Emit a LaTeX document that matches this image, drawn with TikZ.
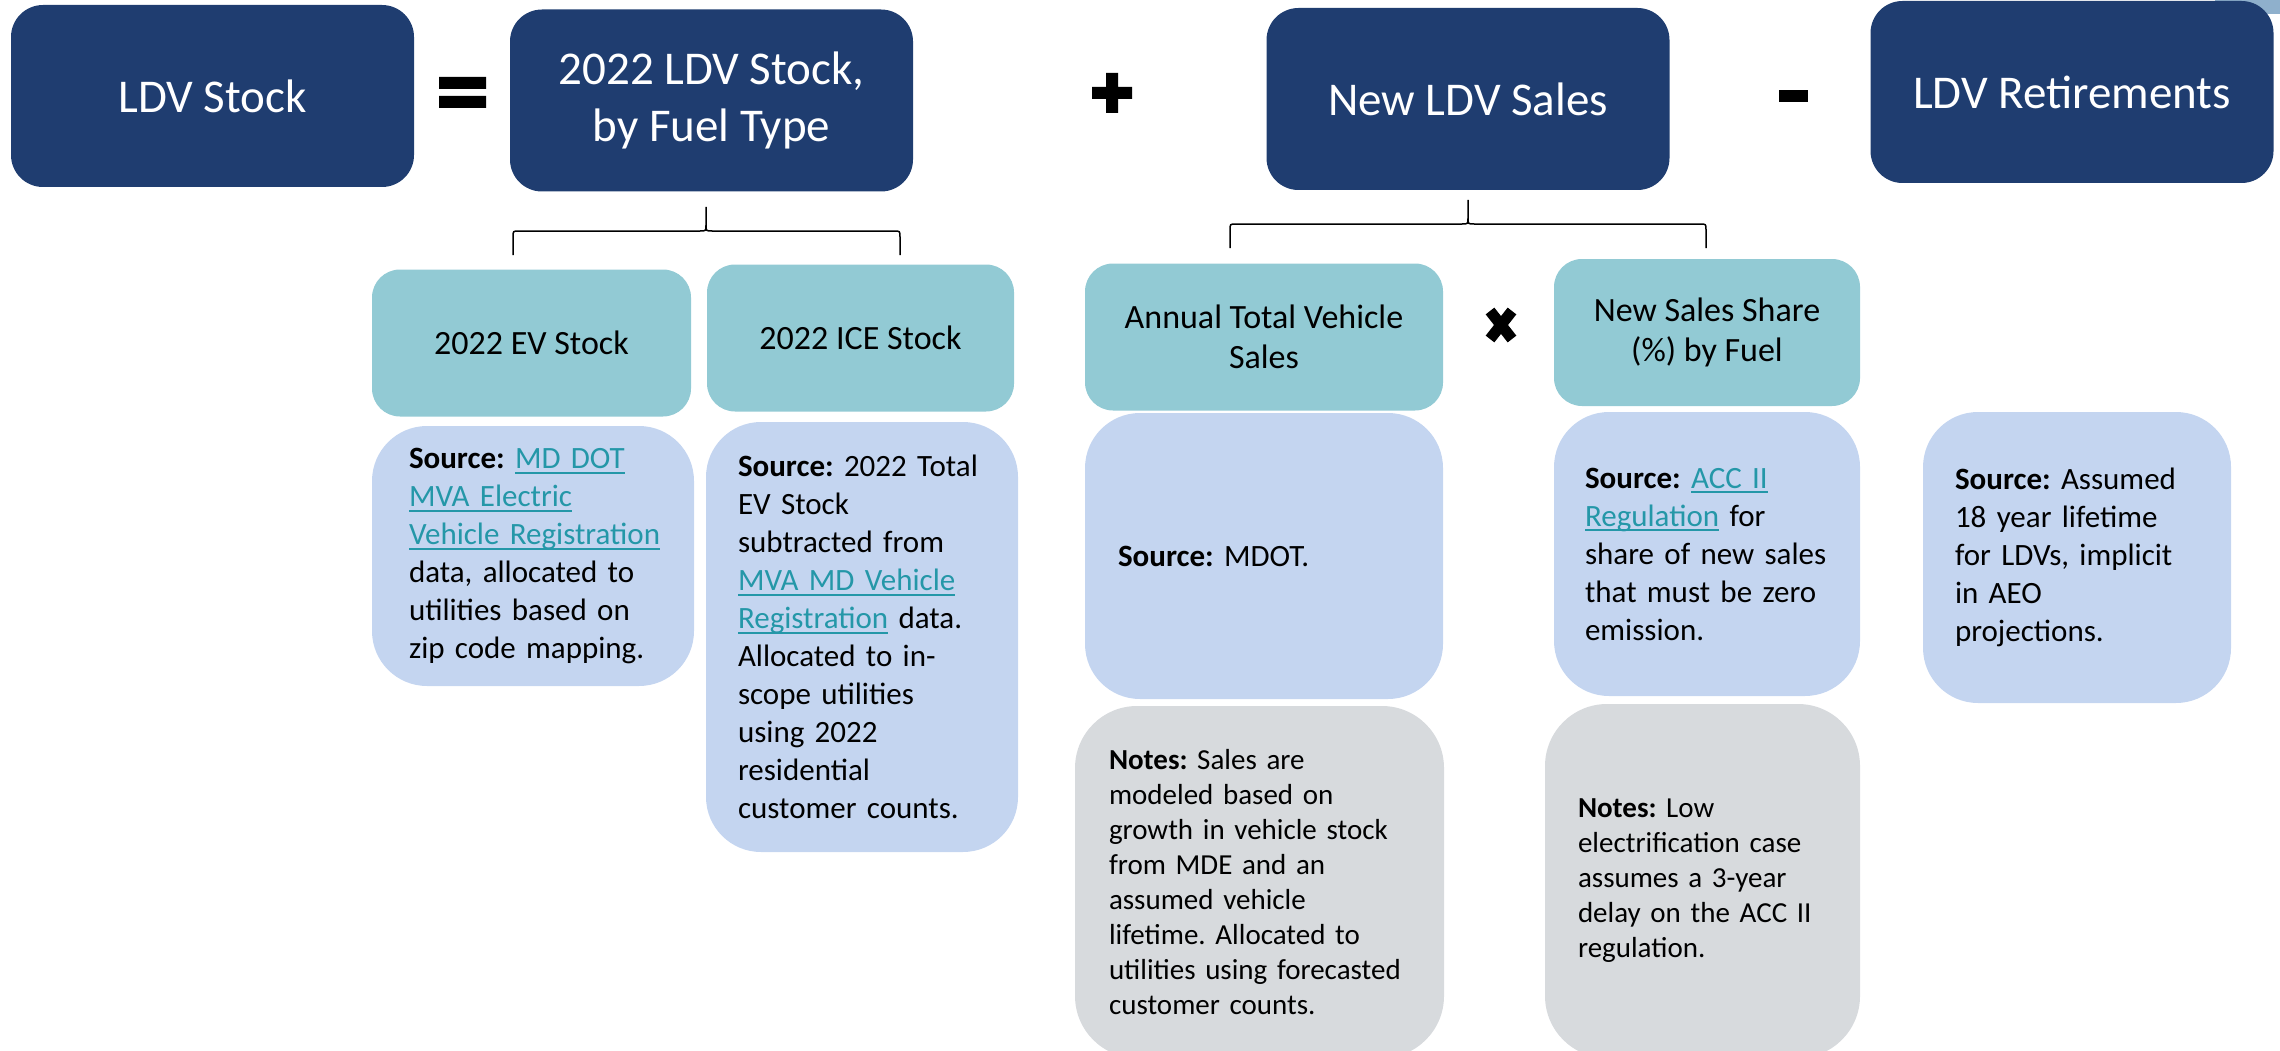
\documentclass[tikz,border=0pt]{standalone}
\usepackage{fontspec}
\setmainfont{Carlito}

\definecolor{ldvnavy}{RGB}{31,61,112}
\definecolor{ldvteal}{RGB}{146,202,212}
\definecolor{srcblue}{RGB}{196,213,240}
\definecolor{notegray}{RGB}{215,218,221}
\definecolor{linkteal}{RGB}{36,151,168}
\definecolor{sliverblue}{RGB}{143,176,204}

\newcommand\lnk[1]{\textcolor{linkteal}{\setbox0\hbox{#1}\rlap{\rule[-5pt]{\wd0}{1.8pt}}\box0}}
\newcommand\nohyph{\hyphenpenalty=10000\relax}
% left x, tip x, right x, line y, arm length
\newcommand\ldvbrace[5]{%
  \draw[bracket] (#1,#4+#5) -- (#1,#4+6) .. controls (#1,#4) .. (#1+6,#4)
    -- (#2-6,#4) .. controls (#2,#4) .. (#2,#4-6) -- (#2,#4-#5) -- (#2,#4-6)
    .. controls (#2,#4) .. (#2+6,#4) -- (#3-6,#4) .. controls (#3,#4) .. (#3,#4+6)
    -- (#3,#4+#5);}

\begin{document}
\frenchspacing
\begin{tikzpicture}[x=1pt, y=-1pt,
            topbox/.style={rectangle, rounded corners=32pt, fill=ldvnavy, text=white, align=center,
              font=\fontsize{47}{57}\selectfont, minimum width=403pt, minimum height=182pt, inner sep=0pt},
            headbox/.style={rectangle, rounded corners=28pt, fill=ldvteal, align=center,
              font=\fontsize{34}{40}\selectfont, minimum height=147pt, inner sep=0pt},
            srcbox/.style={rectangle, rounded corners=55pt, fill=srcblue, align=left,
              font=\fontsize{31}{38}\selectfont\nohyph, inner xsep=32pt, inner ysep=0pt},
            notebox/.style={rectangle, rounded corners=62pt, fill=notegray, align=left,
              font=\fontsize{29}{35}\selectfont\nohyph, inner xsep=34pt, inner ysep=0pt},
            bracket/.style={draw=black, line width=1.5pt},
            opsign/.style={fill=black}]
  \useasboundingbox (0,0) rectangle (2280,1051);
  \clip (0,0) rectangle (2280,1051);
  \fill[sliverblue] (2215,0) rectangle (2280,14);

  % equation row
  \node[topbox] (stock) at (212.5,96) {LDV Stock};
  \node[topbox] (base) at (711.5,100.5) {2022 LDV Stock,\\by Fuel Type};
  \node[topbox] (sales) at (1468,99) {New LDV Sales};
  \node[topbox] (retire) at (2072,92) {LDV Retirements};

  \fill[opsign] (439,77) rectangle (486,89) (439,96) rectangle (486,108);
  \fill[opsign] (1092,87) rectangle (1132,99) (1106,73) rectangle (1118,113);
  \fill[opsign] (1779,90) rectangle (1808,102);
  \draw[line width=11pt] (1490,311) -- (1512,339) (1512,311) -- (1490,339);

  \ldvbrace{513}{706}{900}{231}{24}
  \ldvbrace{1230}{1468}{1706}{224}{24}

  % components
  \node[headbox, minimum width=319pt] (evstock) at (531.5,343) {2022 EV Stock};
  \node[headbox, minimum width=307pt] (icestock) at (860.5,338) {2022 ICE Stock};
  \node[headbox, minimum width=358pt] (annual) at (1264,337) {Annual Total Vehicle\\Sales};
  \node[headbox, minimum width=306pt] (share) at (1707,332.5) {New Sales Share\\(\%) by Fuel};

  % sources
  \node[srcbox, inner xsep=37pt, text width=248pt, minimum height=260pt] (evsrc) at (533,556)
    {\textbf{Source:} \lnk{MD DOT}\\\lnk{MVA Electric}\\\lnk{Vehicle Registration}\\data, allocated to\\utilities based on\\zip code mapping.};
  \node[srcbox, text width=248pt, minimum height=430pt] (icesrc) at (862,637)
    {\textbf{Source:} 2022 Total\\EV Stock\\subtracted from\\\lnk{MVA MD Vehicle}\\\lnk{Registration} data.\\Allocated to in-\\scope utilities\\using 2022\\residential\\customer counts.};
  \node[srcbox, inner xsep=33pt, text width=292pt, minimum height=286pt] (annualsrc) at (1264,556)
    {\textbf{Source:} MDOT.};
  \node[srcbox, inner xsep=31pt, text width=244pt, minimum height=284pt] (sharesrc) at (1707,554)
    {\textbf{Source:} \lnk{ACC II}\\\lnk{Regulation} for\\share of new sales\\that must be zero\\emission.};
  \node[srcbox, text width=244pt, minimum height=291pt] (retiresrc) at (2077,557.5)
    {\textbf{Source:} Assumed\\18 year lifetime\\for LDVs, implicit\\in AEO\\projections.};

  % notes
  \node[notebox, text width=301pt, minimum height=352pt] (annualnote) at (1259.5,882)
    {\textbf{Notes:} Sales are\\modeled based on\\growth in vehicle stock\\from MDE and an\\assumed vehicle\\lifetime. Allocated to\\utilities using forecasted\\customer counts.};
  \node[notebox, inner xsep=33pt, text width=249pt, minimum height=354pt] (sharenote) at (1702.5,881)
    {\textbf{Notes:} Low\\electrification case\\assumes a 3-year\\delay on the ACC II\\regulation.};
\end{tikzpicture}
\end{document}
